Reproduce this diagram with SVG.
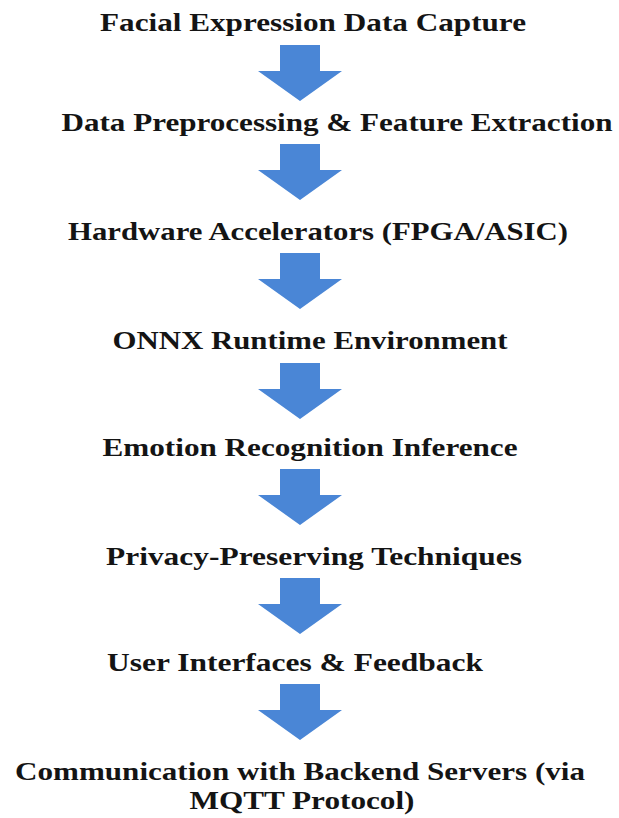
<svg xmlns="http://www.w3.org/2000/svg" width="619" height="818" viewBox="0 0 619 818">
  <style>
    .lbl { font-family: "Liberation Serif", "Times New Roman", serif; font-weight: bold; font-size: 26px; fill: #141414; text-anchor: middle; }
    .arr { fill: #4a86d6; }
  </style>
  <defs>
    <!-- block down-arrow, origin at top of the shaft, centre line x=0 -->
    <path id="down" d="M-20,0 H20 V26 H42 L0,56 L-42,26 H-20 Z"/>
  </defs>
  <rect width="619" height="818" fill="#ffffff"/>

  <g id="connectors" class="arr">
    <use href="#down" x="300" y="45"/>
    <use href="#down" x="300" y="144"/>
    <use href="#down" x="300" y="253"/>
    <use href="#down" x="300" y="363"/>
    <use href="#down" x="300" y="469"/>
    <use href="#down" x="300" y="578"/>
    <use href="#down" x="300" y="684"/>
  </g>

  <g id="n1"><text class="lbl" x="313" y="31" textLength="426" lengthAdjust="spacingAndGlyphs">Facial Expression Data Capture</text></g>
  <g id="n2"><text class="lbl" x="337" y="131" textLength="551" lengthAdjust="spacingAndGlyphs">Data Preprocessing &amp; Feature Extraction</text></g>
  <g id="n3"><text class="lbl" x="318" y="240" textLength="500" lengthAdjust="spacingAndGlyphs">Hardware Accelerators (FPGA/ASIC)</text></g>
  <g id="n4"><text class="lbl" x="310" y="349" textLength="395" lengthAdjust="spacingAndGlyphs">ONNX Runtime Environment</text></g>
  <g id="n5"><text class="lbl" x="310" y="456" textLength="415" lengthAdjust="spacingAndGlyphs">Emotion Recognition Inference</text></g>
  <g id="n6"><text class="lbl" x="314" y="565" textLength="416" lengthAdjust="spacingAndGlyphs">Privacy-Preserving Techniques</text></g>
  <g id="n7"><text class="lbl" x="295" y="671" textLength="376" lengthAdjust="spacingAndGlyphs">User Interfaces &amp; Feedback</text></g>
  <g id="n8">
    <text class="lbl" x="300" y="780" textLength="570" lengthAdjust="spacingAndGlyphs">Communication with Backend Servers (via</text>
    <text class="lbl" x="302" y="809" textLength="225" lengthAdjust="spacingAndGlyphs">MQTT Protocol)</text>
  </g>
</svg>
